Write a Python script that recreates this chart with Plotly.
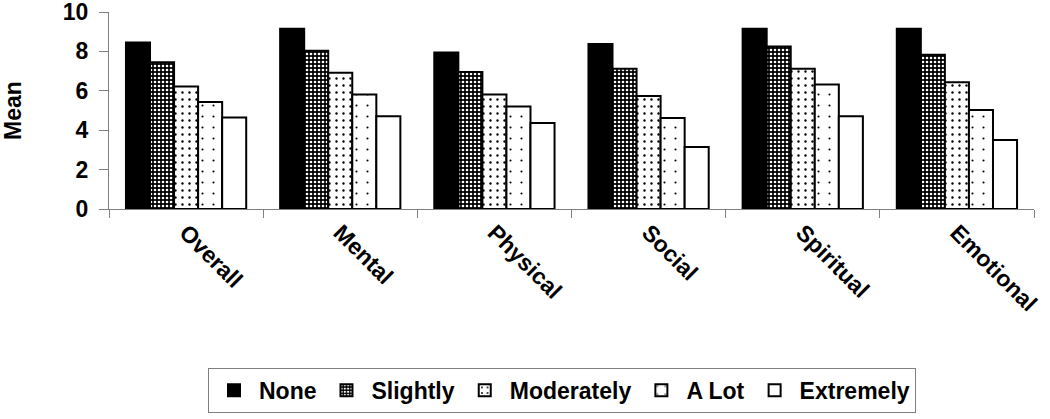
import plotly.graph_objects as go

categories = ["Overall", "Mental", "Physical", "Social", "Spiritual", "Emotional"]
series_names = ["None", "Slightly", "Moderately", "A Lot", "Extremely"]

none_vals = [8.45, 9.15, 7.95, 8.38, 9.15, 9.15]
slightly_vals = [7.45, 8.03, 6.95, 7.12, 8.25, 7.83]
moderately_vals = [6.22, 6.92, 5.81, 5.74, 7.12, 6.43]
alot_vals = [5.43, 5.81, 5.20, 4.62, 6.32, 5.03]
extremely_vals = [4.64, 4.71, 4.37, 3.15, 4.71, 3.50]

y_ticks = [0, 2, 4, 6, 8, 10]

series_values = [none_vals, slightly_vals, moderately_vals, alot_vals, extremely_vals]

patterns = [
    dict(shape=""),
    dict(shape=".", bgcolor="black", fgcolor="white", size=4, solidity=0.35, fillmode="replace"),
    dict(shape=".", bgcolor="white", fgcolor="black", size=7, solidity=0.09, fillmode="replace"),
    dict(shape=".", bgcolor="white", fgcolor="black", size=11, solidity=0.03, fillmode="replace"),
    dict(shape=""),
]
fills = ["black", "black", "white", "white", "white"]

FONT = "Liberation Sans, Arial, sans-serif"

fig = go.Figure()
for name, vals, pat, fc in zip(series_names, series_values, patterns, fills):
    fig.add_trace(go.Bar(
        name=name,
        x=categories,
        y=vals,
        marker=dict(color=fc, line=dict(color="black", width=2), pattern=pat),
    ))

fig.update_layout(
    width=1050,
    height=419,
    margin=dict(l=109, r=16, t=12, b=210, autoexpand=False),
    paper_bgcolor="white",
    plot_bgcolor="white",
    barmode="group",
    bargap=0.22,
    bargroupgap=0,
    font=dict(family=FONT, color="black", size=22, weight="bold"),
    showlegend=True,
    legend=dict(
        orientation="h",
        x=0.107,
        y=-0.806,
        xanchor="left",
        yanchor="top",
        bordercolor="#808080",
        borderwidth=1,
        itemwidth=40,
        font=dict(family=FONT, size=23, color="black", weight="bold"),
        traceorder="normal",
    ),
    xaxis=dict(
        type="category",
        automargin=False,
        tickson="boundaries",
        ticks="outside",
        ticklen=8,
        tickcolor="#808080",
        showline=True,
        linecolor="#808080",
        linewidth=1,
        showgrid=False,
        tickangle=45,
        ticklabeloverflow="allow",
        tickfont=dict(family=FONT, size=23, color="black", weight="bold"),
    ),
    yaxis=dict(
        range=[0, 10],
        automargin=False,
        tickvals=y_ticks,
        ticks="outside",
        ticklen=9,
        tickcolor="#808080",
        showline=True,
        linecolor="#808080",
        linewidth=1,
        showgrid=False,
        zeroline=False,
        ticklabelstandoff=6,
        ticklabeloverflow="allow",
        tickfont=dict(family=FONT, size=23, color="black", weight="bold"),
        title=dict(text="Mean", standoff=38,
                   font=dict(family=FONT, size=23, color="black", weight="bold")),
    ),
)

fig.write_html("out.html", config={"displayModeBar": False},
               post_script="document.body.style.margin='0';")
